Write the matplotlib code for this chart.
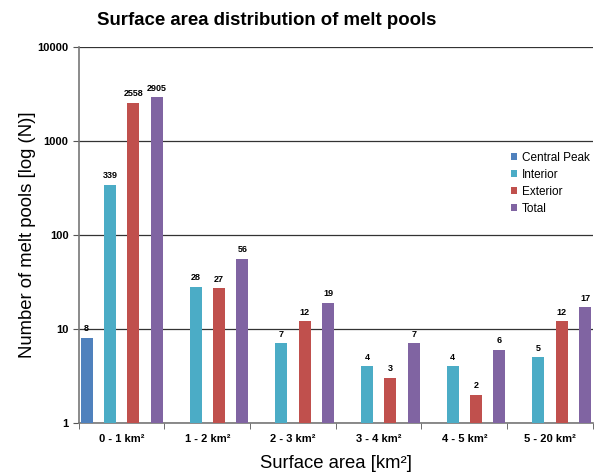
import matplotlib
matplotlib.use("Agg")
import matplotlib.pyplot as plt
import numpy as np

categories = ["0 - 1 km²", "1 - 2 km²", "2 - 3 km²", "3 - 4 km²", "4 - 5 km²", "5 - 20 km²"]
series_names = ["Central Peak", "Interior", "Exterior", "Total"]
central_peak = [8, None, None, None, None, None]
interior = [339, 28, 7, 4, 4, 5]
exterior = [2558, 27, 12, 3, 2, 12]
total = [2905, 56, 19, 7, 6, 17]
colors = ["#4F81BD", "#4BACC6", "#C0504D", "#8064A2"]

plt.rcParams['font.family'] = ['Liberation Sans', 'DejaVu Sans']

fig = plt.figure(figsize=(5.97, 4.74), dpi=100)
ax = fig.add_axes([0.132, 0.108, 0.861, 0.793])

x = np.arange(len(categories))
step = 0.273
width = 0.14
for i, (name, vals, col) in enumerate(zip(series_names, [central_peak, interior, exterior, total], colors)):
    xs = [xi + (i - 1.5) * step for xi, v in zip(x, vals) if v is not None]
    vs = [v for v in vals if v is not None]
    ax.bar(xs, vs, width=width, color=col, label=name, zorder=3)
    for xx, v in zip(xs, vs):
        ax.text(xx, v * 1.12, str(v), ha='center', va='bottom', fontsize=6.5, fontweight='bold', zorder=4)

ax.set_yscale('log')
ax.set_ylim(1, 10000)
ax.set_xlim(-0.5, len(categories) - 0.5)
ax.set_yticks([1, 10, 100, 1000, 10000])
ax.set_yticklabels(["1", "10", "100", "1000", "10000"])
ax.yaxis.set_minor_locator(matplotlib.ticker.NullLocator())
ax.set_xticks(x)
ax.set_xticklabels(categories)
ax.set_xticks(np.arange(len(categories) + 1) - 0.5, minor=True)
ax.tick_params(axis='x', which='major', length=0, pad=8, labelsize=8)
ax.tick_params(axis='x', which='minor', length=4, direction='out', color='#555555')
ax.tick_params(axis='y', which='major', length=4, direction='out', color='#555555', labelsize=8)
for lab in ax.get_xticklabels() + ax.get_yticklabels():
    lab.set_fontweight('bold')

ax.grid(axis='y', which='major', color='#333333', linewidth=0.9, zorder=0)
for s in ['top', 'right']:
    ax.spines[s].set_visible(False)
ax.spines['left'].set_color('#777777')
ax.spines['bottom'].set_color('#777777')
ax.spines['left'].set_linewidth(1.2)
ax.spines['bottom'].set_linewidth(1.2)

ax.set_ylabel("Number of melt pools [log (N)]", fontsize=13.3, labelpad=1)
ax.set_xlabel("Surface area [km²]", fontsize=13.3, labelpad=8)
fig.text(0.447, 0.956, "Surface area distribution of melt pools", ha='center', va='center',
         fontsize=13.4, fontweight='bold')

ax.legend(loc='upper left', bbox_to_anchor=(0.836, 0.727), frameon=False, fontsize=8.5,
          handlelength=0.55, handleheight=0.55, handletextpad=0.35, labelspacing=0.42,
          borderpad=0.2, borderaxespad=0)

fig.savefig("out.png", dpi=100)
